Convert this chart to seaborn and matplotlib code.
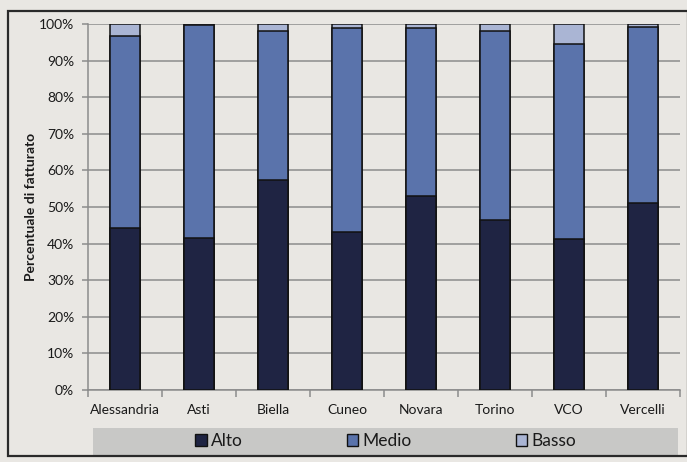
import numpy as np
import pandas as pd
import matplotlib
matplotlib.use("Agg")
import matplotlib.pyplot as plt
from matplotlib.patches import Patch, Rectangle
from matplotlib.ticker import FixedLocator, PercentFormatter
import seaborn as sns

# Province and share of turnover by level (%)
province = ["Alessandria", "Asti", "Biella", "Cuneo", "Novara", "Torino", "VCO", "Vercelli"]
alto = [44.3, 41.4, 57.5, 43.1, 52.9, 46.5, 41.2, 51.0]
medio = [52.5, 58.2, 40.7, 55.9, 46.1, 51.5, 53.3, 48.2]
basso = [3.2, 0.4, 1.8, 1.0, 1.0, 2.0, 5.5, 0.8]
serie = ["Alto", "Medio", "Basso"]
y_ticks = [0, 10, 20, 30, 40, 50, 60, 70, 80, 90, 100]

colori = {"Alto": "#1f2443", "Medio": "#5a73ab", "Basso": "#aab5d4"}
sfondo = "#e9e7e3"

df = pd.DataFrame({"provincia": province, "Alto": alto, "Medio": medio, "Basso": basso})
# cumulative tops for the stacked columns
df["top_alto"] = df["Alto"]
df["top_medio"] = df["Alto"] + df["Medio"]
df["top_basso"] = df["Alto"] + df["Medio"] + df["Basso"]

sns.set_theme(style="white")
plt.rcParams["font.family"] = ["Lato", "DejaVu Sans"]

fig = plt.figure(figsize=(6.87, 4.62), dpi=100, facecolor=sfondo)
ax = fig.add_axes([88 / 687, 1 - 390 / 462, (680 - 88) / 687, (390 - 24) / 462])
ax.set_facecolor(sfondo)

# stacked columns drawn back to front: the taller cumulative bars first
for col, nome in [("top_basso", "Basso"), ("top_medio", "Medio"), ("top_alto", "Alto")]:
    sns.barplot(data=df, x="provincia", y=col, order=province, color=colori[nome],
                saturation=1, width=0.4, edgecolor="#111111", linewidth=1.1,
                errorbar=None, ax=ax, zorder=3)

ax.set_ylim(0, 100)
ax.set_xlim(-0.5, len(province) - 0.5)
ax.yaxis.set_major_locator(FixedLocator(y_ticks))
ax.yaxis.set_major_formatter(PercentFormatter(decimals=0))
ax.grid(axis="y", color="#8c8c8c", linewidth=1.1, zorder=0)
ax.set_axisbelow(True)

for s in ["top", "right"]:
    ax.spines[s].set_visible(False)
for s in ["left", "bottom"]:
    ax.spines[s].set_color("#8c8c8c")
    ax.spines[s].set_linewidth(1.1)

ax.tick_params(axis="y", which="major", left=True, length=4, width=1.1, color="#8c8c8c",
               pad=6, labelsize=10, labelcolor="#1a1a1a")
ax.xaxis.set_minor_locator(FixedLocator(np.arange(-0.5, len(province), 1.0)))
ax.tick_params(axis="x", which="major", bottom=False, length=0, pad=10,
               labelsize=10, labelcolor="#1a1a1a")
ax.tick_params(axis="x", which="minor", bottom=True, length=5, width=1.1, color="#8c8c8c")

ax.set_xlabel("")
ax.set_ylabel("Percentuale di fatturato", fontsize=10, fontweight="bold", color="#1a1a1a",
              labelpad=1)

# grey legend band below the axis
fig.patches.append(Rectangle((93 / 687, 1 - 455 / 462), (678 - 93) / 687, 27 / 462,
                             transform=fig.transFigure, facecolor="#c8c8c6",
                             edgecolor="none", zorder=0))
handles = [Patch(facecolor=colori[n], edgecolor="#111111", linewidth=1.0) for n in serie]
fig.legend(handles, serie, loc="center", bbox_to_anchor=(386 / 687, 1 - 441 / 462),
           ncol=3, frameon=False, fontsize=12.5, handlelength=0.65, handleheight=0.65,
           handletextpad=0.25, columnspacing=6.0, labelcolor="#1a1a1a")

# outer frame of the chart
fig.patches.append(Rectangle((8 / 687, 1 - 456 / 462), 680 / 687, 445 / 462,
                             transform=fig.transFigure, facecolor="none",
                             edgecolor="#2a2a2a", linewidth=1.6, zorder=5))

fig.savefig("out.png", dpi=100, facecolor=sfondo)
